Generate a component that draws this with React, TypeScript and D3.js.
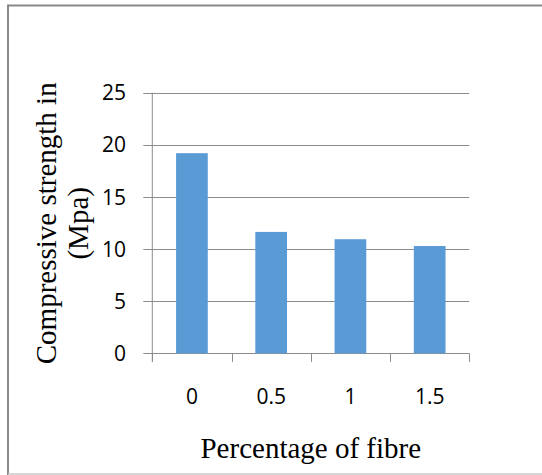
import React from "react";
import * as d3 from "d3";

const categories: string[] = ["0", "0.5", "1", "1.5"];
const values: number[] = [19.2, 11.65, 10.95, 10.3];
const yTicks: number[] = [0, 5, 10, 15, 20, 25];
const yTitleLines: string[] = ["Compressive strength in", "(Mpa)"];
const xTitle = "Percentage of fibre";

export default function App() {
  const W = 542, H = 475;
  const left = 152.3, right = 469.3, top = 92.7, bottom = 353.4;
  const x = d3.scaleBand<string>().domain(categories).range([left, right]).paddingInner(0.6).paddingOuter(0.3);
  const y = d3.scaleLinear().domain([0, 25]).range([bottom, top]);
  const bandEdges = d3.range(categories.length + 1).map((i) => left + (i * (right - left)) / categories.length);
  const tickFont = "'Open Sans', 'Liberation Sans', sans-serif";
  const serif = "'Liberation Serif', 'Times New Roman', serif";
  return (
    <svg width={W} height={H} style={{ position: "absolute", left: 0, top: 0, background: "#fff" }}>
      <rect x={0} y={0} width={W} height={H} fill="#fff" />
      {/* outer frame */}
      <line x1={8} y1={5.5} x2={W} y2={5.5} stroke="#8a8a8a" strokeWidth={2} />
      <line x1={8} y1={4.5} x2={8} y2={H} stroke="#8a8a8a" strokeWidth={2} />
      <line x1={8} y1={474} x2={W} y2={474} stroke="#c8c8c8" strokeWidth={1.5} />
      {/* gridlines */}
      {yTicks.map((t) => (
        <g key={t}>
          <line x1={left - 9} x2={right} y1={Math.round(y(t)) + 0.5} y2={Math.round(y(t)) + 0.5} stroke="#8c8c8c" strokeWidth={1} />
          <text x={126} y={y(t)} dy="0.36em" textAnchor="end" fontFamily={tickFont} fontSize={21} fill="#000">
            {t}
          </text>
        </g>
      ))}
      {/* bars */}
      {categories.map((c, i) => (
        <rect key={c} x={x(c)} y={y(values[i])} width={x.bandwidth()} height={y(0) - y(values[i])} fill="#5b9bd5" />
      ))}
      {/* y axis line */}
      <line x1={left} x2={left} y1={top} y2={bottom + 8.5} stroke="#8c8c8c" strokeWidth={1} />
      {/* x ticks */}
      {bandEdges.map((e, i) => (
        <line key={i} x1={Math.round(e) + 0.5} x2={Math.round(e) + 0.5} y1={bottom} y2={bottom + 8.5} stroke="#8c8c8c" strokeWidth={1} />
      ))}
      {/* x labels */}
      {categories.map((c) => (
        <text key={c} x={(x(c) as number) + x.bandwidth() / 2} y={404} textAnchor="middle" fontFamily={tickFont} fontSize={21} fill="#000">
          {c}
        </text>
      ))}
      <text x={(left + right) / 2} y={458} textAnchor="middle" fontFamily={serif} fontSize={29} fill="#000">
        {xTitle}
      </text>
      {yTitleLines.map((l, i) => (
        <text key={l} transform={`translate(${55.5 + i * 32},223.3) rotate(-90)`} textAnchor="middle" fontFamily={serif} fontSize={29} fill="#000">
          {l}
        </text>
      ))}
    </svg>
  );
}
